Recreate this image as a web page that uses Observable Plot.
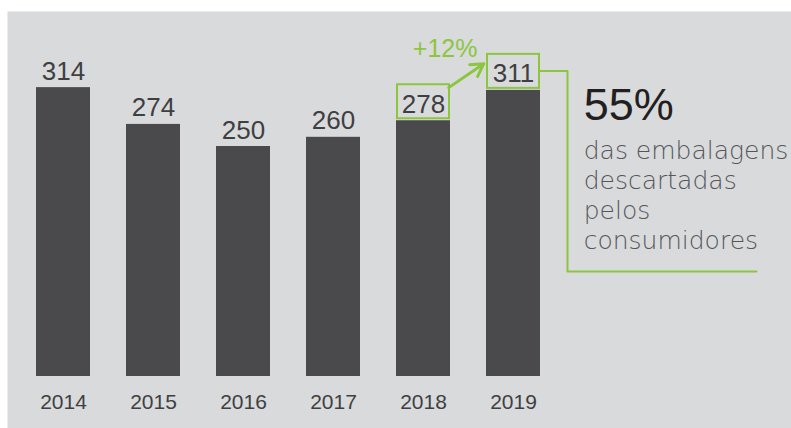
<!DOCTYPE html>
<html><head><meta charset="utf-8">
<script src="https://cdn.jsdelivr.net/npm/d3@7"></script>
<script src="https://cdn.jsdelivr.net/npm/@observablehq/plot@0.6"></script>
<style>
html,body{margin:0;padding:0;background:#fff;}
#chart svg{display:block}
g[aria-label="values"] text, g[aria-label="years"] text {letter-spacing:-1px}
</style></head><body><div id="chart"></div>
<script>
// Data
const years = [2014, 2015, 2016, 2017, 2018, 2019];
const values = [314, 274, 250, 260, 278, 311];
const highlighted = [2018, 2019];
// Annotations (data coordinates)
const growthLabel = "+12%";
const growthPos = [2018.24, 347];
const arrowX = [2018.28, 2018.67];
const arrowY = [314, 340];
const connectorX = [2019.29, 2019.6, 2019.6, 2021.7];
const connectorY = [332, 332, 114, 114];
const headline = "55%";
const subtext = "das embalagens\ndescartadas\npelos\nconsumidores";
const headlinePos = [2019.78, 279];

const GREEN = "#8cc63f";
const data = years.map((year, i) => ({year, value: values[i]}));

const chart = Plot.plot({
  width: 791,
  height: 428,
  marginLeft: 7, marginTop: 11, marginRight: 0, marginBottom: 0,
  x: {type: "linear", domain: [2014, 2019], range: [63, 513], axis: null},
  y: {domain: [0, 400], range: [376, 8], axis: null},
  marks: [
    Plot.frame({fill: "#d9dadc", stroke: null}),
    Plot.rect(data, {x1: d => d.year - 0.3, x2: d => d.year + 0.3, y1: 0, y2: "value", fill: "#4a4a4c"}),
    Plot.rect(data.filter(d => highlighted.includes(d.year)), {
      x1: d => d.year - 0.3, x2: d => d.year + 0.3, y1: "value", y2: "value",
      insetTop: -36, insetBottom: 2, insetLeft: 1, insetRight: 1,
      fill: "none", stroke: GREEN, strokeWidth: 2
    }),
    Plot.text(data, {x: "year", y: "value", text: d => String(d.value), lineAnchor: "bottom", dy: -8,
      fontSize: 26, fill: "#3f3f41", fontFamily: "Liberation Sans, Arial, sans-serif", ariaLabel: "values"}),
    Plot.text(data, {x: "year", y: 0, text: d => String(d.year), lineAnchor: "bottom", dy: 32,
      fontSize: 21, fill: "#3f3f41", fontFamily: "Liberation Sans, Arial, sans-serif", ariaLabel: "years"}),
    Plot.arrow([0], {x1: arrowX[0], y1: arrowY[0], x2: arrowX[1], y2: arrowY[1],
      stroke: GREEN, strokeWidth: 3, headLength: 12}),
    Plot.text([growthLabel], {x: growthPos[0], y: growthPos[1], text: d => d, lineAnchor: "bottom",
      fontSize: 25, fill: GREEN, fontFamily: "Liberation Sans, Arial, sans-serif"}),
    Plot.line(connectorX.map((x, i) => ({x, y: connectorY[i]})), {x: "x", y: "y", stroke: GREEN, strokeWidth: 2}),
    Plot.text([headline], {x: headlinePos[0], y: headlinePos[1], text: d => d, textAnchor: "start", lineAnchor: "bottom",
      fontSize: 45, fill: "#231f20", fontFamily: "Liberation Sans, Arial, sans-serif"}),
    Plot.text([subtext], {x: headlinePos[0], y: 260, text: d => d, textAnchor: "start", lineAnchor: "top",
      fontSize: 25, lineHeight: 30 / 25, fill: "#55565a", fontWeight: 200, fontFamily: "DejaVu Sans, sans-serif"})
  ]
});
document.getElementById("chart").appendChild(chart);
</script></body></html>
